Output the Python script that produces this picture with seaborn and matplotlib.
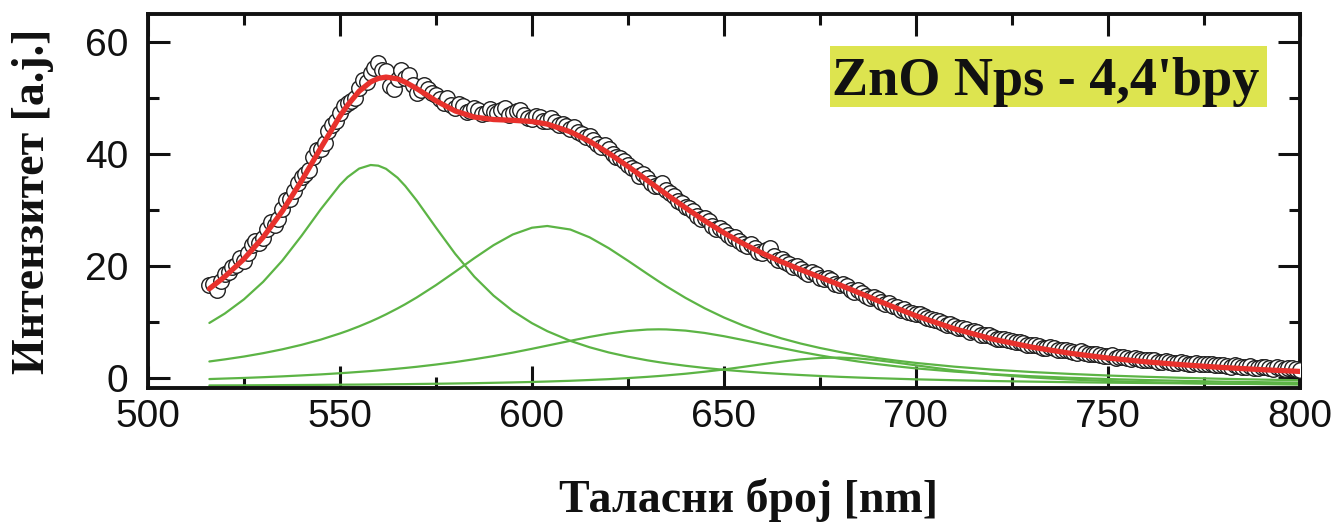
import numpy as np
import matplotlib
matplotlib.use('Agg')
import matplotlib.pyplot as plt
import seaborn as sns
from matplotlib.patches import Rectangle
from matplotlib.ticker import MultipleLocator

# measured PL spectrum, 1 nm step (516 ... 800 nm)
wl_data = np.arange(516, 801, 1)
intensity = [
    16.6, 16.9, 15.8, 17.4, 18.6, 18.9, 19.9, 20.3, 21.5, 21.0,
    22.4, 23.8, 24.5, 24.1, 25.0, 26.6, 27.9, 27.3, 28.4, 30.3,
    31.8, 32.1, 33.5, 34.9, 35.9, 36.4, 37.2, 39.6, 40.8, 41.0,
    42.0, 44.1, 45.3, 45.9, 47.4, 48.6, 49.2, 49.5, 50.1, 51.9,
    53.2, 53.0, 54.6, 55.5, 56.3, 55.1, 54.9, 52.2, 51.6, 53.4,
    55.0, 53.6, 54.2, 52.4, 51.0, 51.4, 52.3, 51.7, 50.9, 50.6,
    49.8, 49.1, 50.0, 48.8, 48.3, 49.0, 48.6, 47.5, 47.7, 48.3,
    48.0, 47.2, 47.4, 48.1, 47.6, 47.3, 47.9, 48.2, 47.0, 47.3,
    47.8, 47.9, 47.1, 46.5, 46.3, 46.9, 46.6, 46.0, 45.9, 46.4,
    45.8, 45.2, 45.4, 45.0, 44.6, 44.9, 43.9, 43.6, 43.1, 43.3,
    42.6, 41.8, 41.3, 41.6, 40.9, 40.0, 39.5, 39.4, 38.8, 38.1,
    37.6, 37.2, 36.1, 36.5, 35.7, 34.8, 34.4, 34.3, 34.9, 33.6,
    33.1, 32.6, 31.7, 31.3, 30.6, 30.5, 29.9, 29.0, 28.4, 28.6,
    28.1, 27.2, 26.7, 26.9, 26.3, 25.6, 25.1, 25.3, 24.6, 24.0,
    23.6, 23.9, 23.2, 22.6, 22.3, 22.9, 23.3, 21.9, 21.2, 21.3,
    20.7, 20.5, 19.8, 20.0, 19.6, 19.0, 18.7, 18.9, 18.6, 18.0,
    17.7, 17.9, 17.5, 16.9, 16.6, 16.8, 16.4, 15.8, 15.5, 15.7,
    15.3, 14.7, 14.4, 14.6, 14.1, 13.6, 13.3, 13.4, 12.9, 12.8,
    12.2, 12.3, 11.9, 11.6, 11.4, 11.5, 11.2, 10.7, 10.6, 10.5,
    10.2, 9.8, 9.5, 9.7, 9.3, 9.0, 8.9, 8.8, 8.3, 8.5,
    8.2, 7.8, 7.7, 7.8, 7.4, 7.1, 7.0, 7.1, 6.9, 6.6,
    6.4, 6.5, 6.3, 6.0, 5.9, 6.0, 5.8, 5.5, 5.4, 5.6,
    5.4, 5.1, 5.0, 5.1, 4.9, 4.7, 4.6, 4.8, 4.6, 4.4,
    4.3, 4.4, 4.2, 4.0, 4.0, 4.1, 3.7, 3.8, 3.8, 3.6,
    3.5, 3.6, 3.5, 3.3, 3.2, 3.3, 3.2, 3.0, 3.0, 3.1,
    3.0, 2.8, 2.8, 2.9, 2.8, 2.6, 2.5, 2.7, 2.6, 2.5,
    2.5, 2.6, 2.3, 2.3, 2.4, 2.2, 2.1, 2.3, 2.2, 2.0,
    2.1, 2.2, 1.9, 1.9, 2.0, 2.1, 1.9, 1.7, 2.0, 1.8,
    1.7, 1.9, 1.8, 1.6, 1.5,
]

# fitted peaks and their sum
wl_fit = [516, 520, 525, 530, 535, 540, 545, 550, 552, 555, 558,
          560, 562, 565, 567, 570, 575, 580, 585, 590, 595, 600, 604,
          610, 615, 620, 625, 630, 633, 635, 640, 645, 650,
          655, 660, 665, 670, 675, 680, 685, 690, 695, 700,
          710, 720, 730, 740, 750, 760, 770, 780, 790, 800]
peak_1 = [9.89, 11.56, 14.10, 17.23, 21.03, 25.45, 30.18, 34.53, 35.93, 37.45, 38.09,
          37.97, 37.41, 35.82, 34.35, 31.74, 26.92, 22.24, 18.15, 14.77, 12.03, 9.85, 8.42,
          6.69, 5.55, 4.62, 3.86, 3.22, 2.89, 2.69, 2.24, 1.85, 1.52,
          1.24, 0.99, 0.78, 0.59, 0.42, 0.27, 0.14, 0.02, -0.08, -0.18,
          -0.34, -0.48, -0.59, -0.69, -0.77, -0.84, -0.90, -0.95, -1.00, -1.04]
peak_2 = [3.01, 3.38, 3.89, 4.49, 5.18, 5.98, 6.91, 8.01, 8.49, 9.28, 10.14,
          10.76, 11.42, 12.48, 13.23, 14.44, 16.64, 19.02, 21.46, 23.77, 25.68, 26.89, 27.20,
          26.57, 25.18, 23.24, 21.00, 18.68, 17.31, 16.43, 14.36, 12.50, 10.86,
          9.43, 8.20, 7.13, 6.21, 5.42, 4.73, 4.13, 3.60, 3.15, 2.75,
          2.08, 1.55, 1.13, 0.79, 0.50, 0.27, 0.08, -0.09, -0.23, -0.35]
peak_3 = [-0.13, -0.04, 0.07, 0.20, 0.35, 0.52, 0.70, 0.91, 1.00, 1.15, 1.30,
          1.41, 1.53, 1.72, 1.85, 2.06, 2.46, 2.90, 3.41, 3.97, 4.59, 5.27, 5.84,
          6.70, 7.39, 7.99, 8.45, 8.71, 8.75, 8.73, 8.52, 8.10, 7.52,
          6.84, 6.12, 5.41, 4.72, 4.09, 3.52, 3.00, 2.54, 2.14, 1.78,
          1.20, 0.74, 0.38, 0.10, -0.13, -0.31, -0.46, -0.59, -0.69, -0.78]
peak_4 = [-1.27, -1.26, -1.25, -1.23, -1.21, -1.19, -1.17, -1.14, -1.13, -1.12, -1.10,
          -1.09, -1.07, -1.05, -1.04, -1.01, -0.97, -0.92, -0.87, -0.80, -0.73, -0.65, -0.57,
          -0.44, -0.30, -0.15, 0.04, 0.26, 0.41, 0.52, 0.82, 1.18, 1.58,
          2.04, 2.52, 2.98, 3.38, 3.63, 3.70, 3.55, 3.23, 2.80, 2.32,
          1.41, 0.69, 0.17, -0.21, -0.48, -0.68, -0.83, -0.94, -1.03, -1.10]
fit_sum = [16.00, 18.14, 21.31, 25.19, 29.85, 35.26, 41.12, 46.81, 48.79, 51.26, 52.93,
           53.55, 53.79, 53.47, 52.89, 51.73, 49.55, 47.74, 46.65, 46.21, 46.07, 45.86, 45.39,
           44.02, 42.32, 40.20, 37.85, 35.37, 33.86, 32.87, 30.44, 28.13, 25.98,
           24.05, 22.33, 20.80, 19.40, 18.06, 16.72, 15.32, 13.89, 12.51, 11.17,
           8.85, 7.00, 5.59, 4.49, 3.62, 2.94, 2.39, 1.93, 1.55, 1.23]

x_ticks = [500, 550, 600, 650, 700, 750, 800]
y_ticks = [0, 20, 40, 60]
sample_label = "ZnO Nps - 4,4'bpy"

sns.set_theme(style='ticks')
plt.rcParams['font.family'] = ['Liberation Sans', 'DejaVu Sans']

fig = plt.figure(figsize=(13.4, 5.23), dpi=100)
ax = fig.add_axes([0.1104, 0.2581, 0.8597, 0.7151])

green = '#5cb445'
for comp in [peak_1, peak_2, peak_3, peak_4]:
    sns.lineplot(x=wl_fit, y=comp, ax=ax, color=green, lw=1.6,
                 estimator=None, sort=False, zorder=2)

sns.scatterplot(x=wl_data, y=intensity, ax=ax, marker='o', s=125,
                facecolor='white', edgecolor='#1e1e1e', linewidth=1.0,
                zorder=3)
sns.lineplot(x=wl_fit, y=fit_sum, ax=ax, color='#e8312c', lw=3.8,
             estimator=None, sort=False, zorder=4)

ax.set_xlim(500, 800)
ax.set_ylim(-1.73, 65.05)
ax.set_xticks(x_ticks)
ax.set_yticks(y_ticks)
ax.xaxis.set_minor_locator(MultipleLocator(25))
ax.yaxis.set_minor_locator(MultipleLocator(10))
ax.tick_params(which='both', direction='in', top=True, right=True,
               width=2.2, color='#111111')
ax.tick_params(which='major', length=16, labelsize=28, labelcolor='#111111')
ax.tick_params(which='minor', length=8)
ax.tick_params(axis='y', pad=14)
ax.tick_params(axis='x', pad=8)
for sp in ax.spines.values():
    sp.set_linewidth(2.8)
    sp.set_color('#111111')

serif = ['Liberation Serif', 'DejaVu Serif']
ax.set_xlabel('Таласни број [nm]', family=serif, weight='bold', fontsize=33,
              color='#111111', va='center')
ax.xaxis.set_label_coords(0.5217, -0.30)
ax.set_ylabel('Интензитет [a.j.]', family=serif, weight='bold', fontsize=33,
              color='#111111', va='center')
ax.yaxis.set_label_coords(-0.0998, 0.5)

ax.add_patch(Rectangle((0.592, 0.7521), 0.3793, 0.1623, transform=ax.transAxes,
                       facecolor='#dde44f', edgecolor='none', zorder=5))
ax.text(0.5938, 0.7834, sample_label, transform=ax.transAxes, family=serif,
        weight='bold', fontsize=39, color='#111111', va='baseline', ha='left',
        zorder=6)

fig.savefig('out.png', dpi=100)
